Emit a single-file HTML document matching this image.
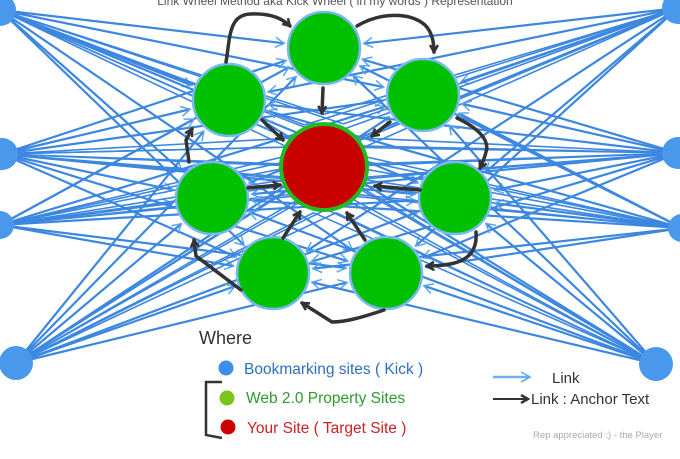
<!DOCTYPE html>
<html><head><meta charset="utf-8"><style>
html,body{margin:0;padding:0;background:#fff;width:680px;height:459px;overflow:hidden}
svg{display:block}
text{font-family:"Liberation Sans","DejaVu Sans",sans-serif}
</style></head><body>
<svg id="s" width="680" height="459" viewBox="0 0 680 459" xmlns="http://www.w3.org/2000/svg">
<defs>
<marker id="ab" markerWidth="10" markerHeight="10" refX="8" refY="5" orient="auto" markerUnits="userSpaceOnUse"><path d="M1,1 L8,5 L1,9" fill="none" stroke="#333" stroke-width="2.5"/></marker>
<marker id="al" markerWidth="12" markerHeight="12" refX="10" refY="6" orient="auto" markerUnits="userSpaceOnUse"><path d="M1,1 L10,6 L1,11" fill="none" stroke="#5aa6f0" stroke-width="1.5"/></marker>
</defs>
<g id="blue" stroke="#3c87e0" stroke-width="2.2" fill="none"></g>
<g id="nodes"></g>
<text x="335" y="5" font-size="12" fill="#555" text-anchor="middle">Link Wheel Method aka Kick Wheel ( in my words ) Representation</text>
<g stroke="#333" stroke-width="3.5" fill="none" stroke-linecap="round" marker-end="url(#ab)">
<path d="M226,62 C230,40 228,15 250,14 C270,13 282,18 290,26"/>
<path d="M357,26 C380,12 410,12 425,25 C432,32 434,42 434,52"/>
<path d="M323,88 L322,113"/>
<path d="M390,122 L372,136"/>
<path d="M457,118 C478,128 490,140 486,152 C484,160 482,164 480,168"/>
<path d="M420,190 L375,186"/>
<path d="M476,232 C478,258 460,266 427,266"/>
<path d="M384,310 C360,318 345,322 332,322 L302,303"/>
<path d="M365,240 L347,213"/>
<path d="M283,238 L300,212"/>
<path d="M241,290 L196,256 L194,240"/>
<path d="M248,188 L280,185"/>
<path d="M189,162 L186,140 L192,129"/>
<path d="M262,120 L283,140"/>
</g>
<text x="199" y="344" font-size="18" fill="#333">Where</text>
<circle cx="226" cy="368" r="7.5" fill="#3d8ee8"/>
<text x="244" y="374" font-size="15.5" fill="#2e6fbf">Bookmarking sites ( Kick )</text>
<circle cx="227" cy="398" r="7.5" fill="#7cc419"/>
<text x="246" y="403" font-size="15.5" fill="#2e9b2e">Web 2.0 Property Sites</text>
<circle cx="228" cy="427" r="7.5" fill="#cc0000"/>
<text x="247" y="433" font-size="15.5" fill="#cc2222">Your Site ( Target Site )</text>
<path d="M222,382 L206,382 L206,435 L222,438" stroke="#333" stroke-width="2.5" fill="none"/>
<line x1="493" y1="377" x2="530" y2="377" stroke="#6ab0f5" stroke-width="2.5" marker-end="url(#al)"/>
<text x="552" y="383" font-size="15" fill="#333">Link</text>
<line x1="493" y1="399" x2="528" y2="399" stroke="#333" stroke-width="2" marker-end="url(#ab)"/>
<text x="531" y="404" font-size="15" fill="#333">Link : Anchor Text</text>
<text x="533" y="438" font-size="9.5" fill="#aaa">Rep appreciated :) - the Player</text>
</svg>
<script>
var NS="http://www.w3.org/2000/svg";
var bm=[[0,10,16],[2,154,16],[0,225,14],[16,363,17],[678,8,16],[678,153,16],[682,228,14],[656,364,17]];
var gn=[[324,48],[229,100],[423,95],[212,198],[455,198],[273,273],[386,273]];
var blue=document.getElementById('blue'),nodes=document.getElementById('nodes');
bm.forEach(function(b){gn.forEach(function(g,i){
  var dx=g[0]-b[0],dy=g[1]-b[1],d=Math.sqrt(dx*dx+dy*dy);
  var ex=g[0]-dx/d*40,ey=g[1]-dy/d*40;
  var l=document.createElementNS(NS,'line');
  l.setAttribute('x1',b[0]);l.setAttribute('y1',b[1]);l.setAttribute('x2',ex);l.setAttribute('y2',ey);
  l.setAttribute('marker-end','url(#al)');blue.appendChild(l);
  var l2=document.createElementNS(NS,'line');
  l2.setAttribute('x1',b[0]);l2.setAttribute('y1',b[1]);l2.setAttribute('x2',324+(g[0]-324)*0.2);l2.setAttribute('y2',167+(g[1]-167)*0.2+ (b[1]-200)*0.15);
  l2.setAttribute('stroke-width','1.6');blue.appendChild(l2);
});});
function c(x,y,r,f,s,sw){var e=document.createElementNS(NS,'circle');e.setAttribute('cx',x);e.setAttribute('cy',y);e.setAttribute('r',r);e.setAttribute('fill',f);if(s){e.setAttribute('stroke',s);e.setAttribute('stroke-width',sw);}nodes.appendChild(e);}
bm.forEach(function(b){c(b[0],b[1],b[2],'#4a98ec');});
gn.forEach(function(g){c(g[0],g[1],36,'#00c000','#7ab8f5',2.5);});
c(324,167,43,'#c80000','#22bb22',4);
</script>
</body></html>
